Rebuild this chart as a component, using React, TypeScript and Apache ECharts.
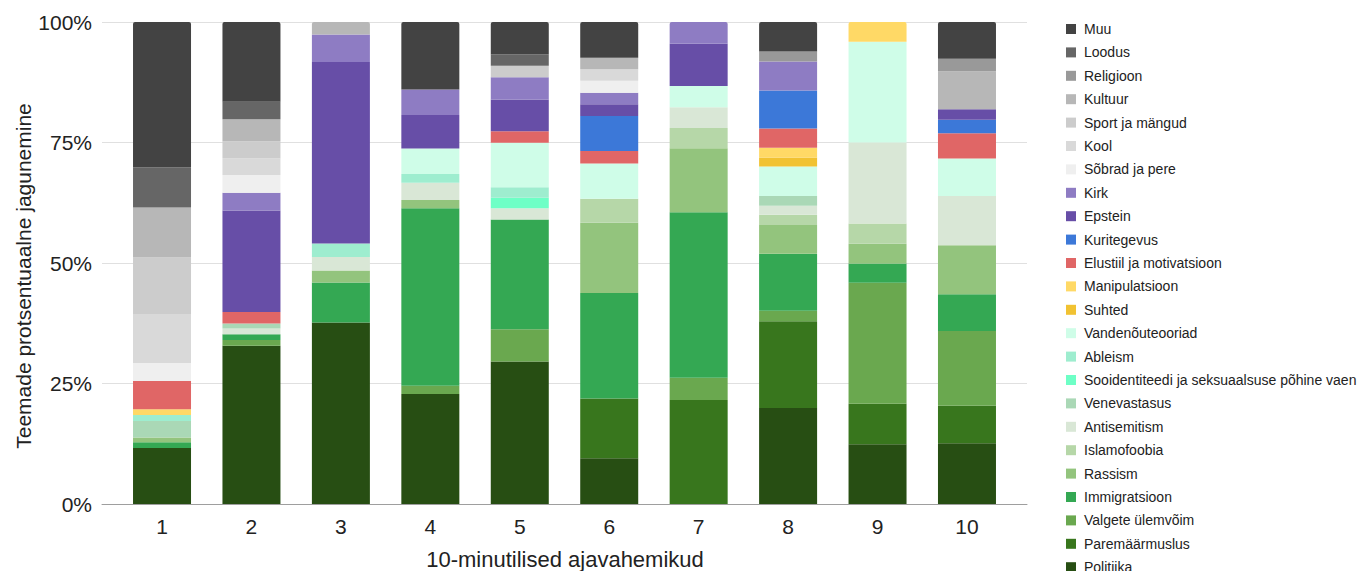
import React, { useEffect, useRef } from "react";
import * as echarts from "echarts";

const categories = ["1", "2", "3", "4", "5", "6", "7", "8", "9", "10"];
const yTicks = [0, 25, 50, 75, 100];
const xTitle = "10-minutilised ajavahemikud";
const yTitle = "Teemade protsentuaalne jagunemine";

// stack order, bottom to top
const politiika = [11.6, 32.9, 37.7, 22.8, 29.6, 9.5, 0, 19.9, 12.4, 12.6];
const paremaarmuslus = [0, 0, 0, 0, 0, 12.4, 21.6, 18.0, 8.4, 7.8];
const valgete = [0, 1.2, 0, 1.7, 6.7, 0, 4.6, 2.2, 25.1, 15.5];
const immigratsioon = [1.2, 1.2, 8.3, 36.8, 22.8, 21.9, 34.4, 11.8, 4.0, 7.6];
const rassism = [1.0, 0, 2.5, 1.7, 0, 14.6, 13.3, 6.0, 4.1, 10.2];
const islamofoobia = [0, 0, 0, 0, 0, 5.0, 4.2, 2.1, 4.2, 0];
const antisemitism = [0, 1.2, 2.8, 3.6, 2.3, 0, 4.3, 1.9, 16.8, 10.2];
const venevastasus = [3.45, 1.0, 0, 0, 0, 0, 0, 2.0, 0, 0];
const sooidentiteedi = [0, 0, 0, 0, 2.2, 0, 0, 0, 0, 0];
const ableism = [1.2, 0, 2.8, 1.8, 2.2, 0, 0, 0, 0, 0];
const vandenouteooriad = [0, 0, 0, 5.3, 9.2, 7.3, 4.4, 6.1, 20.9, 7.8];
const suhted = [0, 0, 0, 0, 0, 0, 0, 1.9, 0, 0];
const manipulatsioon = [1.2, 0, 0, 0, 0, 0, 0, 2.0, 4.1, 0];
const elustiil = [5.9, 2.4, 0, 0, 2.4, 2.6, 0, 4.0, 0, 5.2];
const kuritegevus = [0, 0, 0, 0, 0, 7.3, 0, 7.9, 0, 2.8];
const epstein = [0, 21.1, 37.7, 6.9, 6.6, 2.4, 8.8, 0, 0, 2.2];
const kirk = [0, 3.7, 5.7, 5.3, 4.6, 2.4, 4.5, 6.0, 0, 0];
const sobradJaPere = [3.7, 3.7, 0, 0, 0, 2.5, 0, 0, 0, 0];
const kool = [10.2, 3.5, 0, 0, 0, 2.4, 0, 0, 0, 0];
const sportJaMangud = [11.7, 3.5, 0, 0, 2.4, 0, 0, 0, 0, 0];
const kultuur = [10.4, 4.6, 2.6, 0, 0, 2.4, 0, 0, 0, 7.9];
const religioon = [0, 0, 0, 0, 0, 0, 0, 2.1, 0, 2.6];
const loodus = [8.3, 3.6, 0, 0, 2.4, 0, 0, 0, 0, 0];
const muu = [30.2, 16.6, 0, 14.0, 6.7, 7.4, 0, 6.1, 0, 7.6];

const seriesDefs: [string, number[], string][] = [
  ["Politiika", politiika, "#274e13"],
  ["Paremäärmuslus", paremaarmuslus, "#38761d"],
  ["Valgete ülemvõim", valgete, "#6aa84f"],
  ["Immigratsioon", immigratsioon, "#34a853"],
  ["Rassism", rassism, "#93c47d"],
  ["Islamofoobia", islamofoobia, "#b6d7a8"],
  ["Antisemitism", antisemitism, "#d9e7d6"],
  ["Venevastasus", venevastasus, "#aad8b6"],
  ["Sooidentiteedi ja seksuaalsuse põhine vaen", sooidentiteedi, "#6effc6"],
  ["Ableism", ableism, "#9eedcf"],
  ["Vandenõuteooriad", vandenouteooriad, "#cffde8"],
  ["Suhted", suhted, "#f1c232"],
  ["Manipulatsioon", manipulatsioon, "#ffd966"],
  ["Elustiil ja motivatsioon", elustiil, "#e06666"],
  ["Kuritegevus", kuritegevus, "#3c78d8"],
  ["Epstein", epstein, "#674ea7"],
  ["Kirk", kirk, "#8e7cc3"],
  ["Sõbrad ja pere", sobradJaPere, "#efefef"],
  ["Kool", kool, "#d9d9d9"],
  ["Sport ja mängud", sportJaMangud, "#cccccc"],
  ["Kultuur", kultuur, "#b7b7b7"],
  ["Religioon", religioon, "#999999"],
  ["Loodus", loodus, "#666666"],
  ["Muu", muu, "#434343"],
];

const FONT = "'Liberation Sans', Arial, sans-serif";

export default function App() {
  const ref = useRef<HTMLDivElement>(null);
  useEffect(() => {
    if (!ref.current) return;
    const chart = echarts.init(ref.current, undefined, { renderer: "svg" });
    const totals = categories.map((_, i) =>
      seriesDefs.reduce((s, d) => s + d[1][i], 0)
    );
    const topIdx = categories.map((_, i) => {
      let t = 0;
      seriesDefs.forEach((d, k) => {
        if (d[1][i] > 0) t = k;
      });
      return t;
    });
    const series = seriesDefs.map(([name, vals, color], k) => ({
      name,
      type: "bar",
      stack: "total",
      xAxisIndex: 1,
      yAxisIndex: 1,
      barWidth: 58,
      itemStyle: { color },
      data: vals.map((v, i) => ({
        value: (v / totals[i]) * 100,
        itemStyle: topIdx[i] === k ? { borderRadius: [2, 2, 0, 0] } : undefined,
      })),
    }));
    chart.setOption({
      animation: false,
      textStyle: { fontFamily: FONT },
      grid: [
        { left: 102, right: 341, top: 22, bottom: 67 },
        { left: 117.3, width: 894.4, top: 22, bottom: 67 },
      ],
      xAxis: [
        {
          type: "value",
          gridIndex: 0,
          min: 0,
          max: 1,
          axisLabel: { show: false },
          axisTick: { show: false },
          splitLine: { show: false },
          axisLine: { show: true, lineStyle: { color: "#9e9e9e", width: 1 } },
        },
        {
          type: "category",
          gridIndex: 1,
          data: categories,
          axisLine: { show: false },
          axisTick: { show: false },
          axisLabel: { color: "#222", fontSize: 21, margin: 12, fontFamily: FONT },
        },
      ],
      yAxis: [
        {
          type: "value",
          gridIndex: 0,
          min: 0,
          max: 100,
          interval: 25,
          axisLine: { show: false },
          axisTick: { show: false },
          axisLabel: {
            color: "#222",
            fontSize: 21,
            margin: 10,
            fontFamily: FONT,
            formatter: (v: number) => (yTicks.includes(v) ? v + "%" : ""),
          },
          splitLine: { lineStyle: { color: "#e0e0e0", width: 1 } },
        },
        {
          type: "value",
          gridIndex: 1,
          min: 0,
          max: 100,
          interval: 25,
          show: false,
          splitLine: { show: false },
        },
      ],
      legend: {
        type: "plain",
        orient: "vertical",
        left: 1066,
        top: 22,
        height: 800,
        padding: 0,
        itemWidth: 10,
        itemHeight: 10,
        itemGap: 9.4,
        icon: "rect",
        selectedMode: false,
        data: seriesDefs.map((d) => d[0]).reverse(),
        textStyle: {
          color: "#222",
          fontSize: 14,
          lineHeight: 14,
          fontFamily: FONT,
          padding: [0, 0, 0, 3],
        },
      },
      graphic: [
        {
          type: "text",
          x: 565,
          y: 559,
          style: {
            text: xTitle,
            fontSize: 22,
            fontFamily: FONT,
            fill: "#222",
            textAlign: "center",
            textVerticalAlign: "middle",
          },
        },
        {
          type: "text",
          x: 23,
          y: 276,
          rotation: Math.PI / 2,
          style: {
            text: yTitle,
            fontSize: 21,
            fontFamily: FONT,
            fill: "#222",
            textAlign: "center",
            textVerticalAlign: "middle",
          },
        },
      ],
      series,
    });
    return () => chart.dispose();
  }, []);
  return (
    <div
      ref={ref}
      style={{ position: "fixed", left: 0, top: 0, width: 1368, height: 571, background: "#fff" }}
    />
  );
}
